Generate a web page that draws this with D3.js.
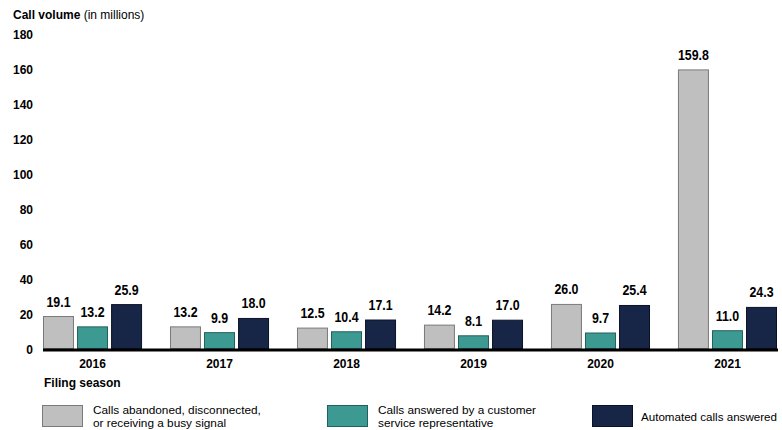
<!DOCTYPE html>
<html>
<head>
<meta charset="utf-8">
<script src="https://cdn.jsdelivr.net/npm/d3@7/dist/d3.min.js"></script>
<style>
  body { margin: 0; background: #fff; }
  svg { display: block; }
</style>
</head>
<body>
<svg id="chart" width="782" height="430"></svg>
<script>
// Filing seasons and call volumes (millions)
const seasons = ["2016", "2017", "2018", "2019", "2020", "2021"];
const abandoned = [19.1, 13.2, 12.5, 14.2, 26.0, 159.8];
const answeredByRep = [13.2, 9.9, 10.4, 8.1, 9.7, 11.0];
const automated = [25.9, 18.0, 17.1, 17.0, 25.4, 24.3];
const yTicks = [0, 20, 40, 60, 80, 100, 120, 140, 160, 180];
const seriesNames = [
  ["Calls abandoned, disconnected,", "or receiving a busy signal"],
  ["Calls answered by a customer", "service representative"],
  ["Automated calls answered"]
];

const fills = ["#bfbfbf", "#3d9a93", "#172546"];
const strokes = ["#7a7a7a", "#24605b", "#0b1226"];
const sans = "'Liberation Sans', Arial, Helvetica, sans-serif";

const series = [abandoned, answeredByRep, automated];
const rows = seasons.map((s, i) => ({ season: s, values: series.map(v => v[i]) }));

const svg = d3.select("#chart");
const x0 = 43, x1 = 777, yBase = 350, yTop = 34.5;

const x = d3.scaleBand().domain(seasons).range([x0, x1]).paddingInner(0.22).paddingOuter(0);
const xs = d3.scaleBand().domain([0, 1, 2]).range([0, x.bandwidth()]).paddingInner(0.09);
const y = d3.scaleLinear().domain([0, 180]).range([yBase, yTop]);

// Axis title
const title = svg.append("text").attr("x", 13).attr("y", 19)
  .attr("font-family", sans).attr("font-size", 12).attr("fill", "#000");
title.append("tspan").attr("font-weight", "bold").text("Call volume");
title.append("tspan").text(" (in millions)");

// Y tick labels
const yAxis = d3.axisLeft(y).tickValues(yTicks).tickSize(0).tickPadding(0).tickFormat(d3.format("d"));
const gy = svg.append("g").attr("transform", "translate(33,0)").call(yAxis);
gy.select(".domain").remove();
gy.selectAll("text").attr("font-family", sans).attr("font-size", 12)
  .attr("font-weight", "bold").attr("fill", "#000");

// Bars
const groups = svg.append("g").selectAll("g").data(rows).join("g")
  .attr("transform", d => `translate(${x(d.season)},0)`);

groups.selectAll("rect").data(d => d.values.map((v, k) => ({ v, k }))).join("rect")
  .attr("x", d => xs(d.k) + 0.5)
  .attr("width", xs.bandwidth() - 1)
  .attr("y", d => y(d.v))
  .attr("height", d => yBase - 1.5 - y(d.v))
  .attr("fill", d => fills[d.k])
  .attr("stroke", d => strokes[d.k])
  .attr("stroke-width", 1);

// Value labels (condensed bold figures)
groups.selectAll("text.val").data(d => d.values.map((v, k) => ({ v, k }))).join("text")
  .attr("class", "val")
  .attr("transform", d => `translate(${xs(d.k) + xs.bandwidth() / 2},${y(d.v) - 10}) scale(0.8,1)`)
  .attr("text-anchor", "middle")
  .attr("font-family", sans).attr("font-size", 15.5).attr("font-weight", "bold")
  .attr("fill", "#000")
  .text(d => d3.format(".1f")(d.v));

// Baseline
svg.append("line").attr("x1", x0).attr("x2", x1 + 1).attr("y1", yBase).attr("y2", yBase)
  .attr("stroke", "#000").attr("stroke-width", 3);

// Season labels
const xAxis = d3.axisBottom(x).tickSize(0).tickPadding(0);
const gx = svg.append("g").attr("transform", `translate(0,${yBase + 9})`).call(xAxis);
gx.select(".domain").remove();
gx.selectAll("text").attr("font-family", sans).attr("font-size", 12)
  .attr("font-weight", "bold").attr("fill", "#000");

svg.append("text").attr("x", 44).attr("y", 387)
  .attr("font-family", sans).attr("font-size", 12).attr("font-weight", "bold")
  .attr("fill", "#000").text("Filing season");

// Legend
const legendX = [42, 327, 592];
const legendTextX = [93, 378, 641];
const legend = svg.append("g");
seriesNames.forEach((lines, k) => {
  legend.append("rect").attr("x", legendX[k] + 0.5).attr("y", 405.5)
    .attr("width", 40).attr("height", 21)
    .attr("fill", fills[k]).attr("stroke", strokes[k]).attr("stroke-width", 1);
  if (lines.length === 2) {
    lines.forEach((line, j) => {
      legend.append("text").attr("x", legendTextX[k]).attr("y", 414 + j * 12.5)
        .attr("font-family", sans).attr("font-size", 11.8).attr("fill", "#000").text(line);
    });
  } else {
    legend.append("text").attr("x", legendTextX[k]).attr("y", 421)
      .attr("font-family", sans).attr("font-size", 11.6).attr("fill", "#000").text(lines[0]);
  }
});
</script>
</body>
</html>
